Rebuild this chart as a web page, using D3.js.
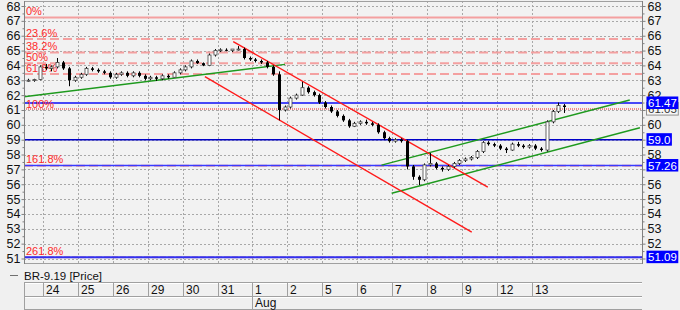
<!DOCTYPE html>
<html>
<head>
<meta charset="utf-8">
<script src="https://cdn.jsdelivr.net/npm/d3@7"></script>
<style>
body { margin: 0; background: #f0f0f0; }
svg { display: block; font-family: "Liberation Sans", Arial, sans-serif; }
</style>
</head>
<body>
<script>
// day labels on the time axis (index 0 = 24 Jul), month label starts at "1"
var days = ["24","25","26","29","30","31","1","2","5","6","7","8","9","12","13"];
var monthLabel = "Aug", monthStart = 6;
var barsPerDay = 6, firstDayBars = 3; // partial day before the 24th

// intraday candles, one line per day
var opens = [
  63.0, 63.0, 63.05,
  63.9, 63.8, 63.9, 64.2, 63.8, 63.0,
  63.2, 63.4, 63.8, 63.7, 63.6, 63.5,
  63.2, 63.4, 63.5, 63.3, 63.5, 63.3,
  63.1, 63.2, 63.1, 63.3, 63.2, 63.5,
  63.7, 63.9, 64.3, 64.15, 64.0, 64.7,
  65.0, 65.05, 65.0, 65.1, 65.1, 64.5,
  64.4, 64.3, 64.2, 63.9, 63.4, 61.0,
  61.2, 61.8, 62.0, 62.5, 62.2, 62.0,
  61.5, 61.2, 60.9, 60.6, 60.3, 59.9,
  60.1, 60.2, 60.1, 60.0, 59.5, 59.1,
  58.9, 59.0, 58.9, 57.2, 56.5, 56.3,
  57.3, 57.4, 57.1, 57.0, 57.2, 57.4,
  57.6, 57.7, 57.8, 58.2, 58.8, 58.7,
  58.6, 58.4, 58.3, 58.7, 58.6, 58.5,
  58.6, 58.4, 58.3, 60.2, 60.9, 61.3
];
var highs = [
  63.1, 63.1, 64.0,
  64.1, 64.0, 64.5, 64.3, 63.9, 63.3,
  63.5, 63.9, 63.9, 63.8, 63.7, 63.6,
  63.5, 63.6, 63.6, 63.6, 63.6, 63.4,
  63.3, 63.3, 63.4, 63.4, 63.6, 63.8,
  64.0, 64.4, 64.4, 64.2, 64.8, 65.1,
  65.15, 65.15, 65.1, 65.3, 65.2, 64.6,
  64.5, 64.4, 64.3, 64.0, 63.6, 61.3,
  61.9, 62.1, 62.9, 62.6, 62.3, 62.1,
  61.6, 61.3, 61.0, 60.7, 60.4, 60.2,
  60.3, 60.35, 60.2, 60.1, 59.6, 59.2,
  59.1, 59.1, 59.0, 57.3, 56.6, 57.4,
  58.1, 57.5, 57.2, 57.3, 57.5, 57.7,
  57.8, 57.9, 58.3, 58.9, 58.9, 58.8,
  58.7, 58.5, 58.8, 58.85, 58.7, 58.7,
  58.7, 58.5, 60.3, 61.0, 61.5, 61.4
];
var lows = [
  62.9, 62.9, 63.0,
  63.7, 63.6, 63.8, 63.7, 62.6, 62.9,
  63.1, 63.3, 63.6, 63.5, 63.4, 63.1,
  63.1, 63.3, 63.2, 63.2, 63.2, 63.0,
  63.0, 62.95, 63.0, 63.1, 63.2, 63.4,
  63.6, 63.8, 64.1, 63.95, 63.95, 64.6,
  64.9, 64.95, 64.9, 65.0, 64.4, 64.3,
  64.2, 64.1, 63.8, 63.3, 60.3, 60.9,
  61.1, 61.7, 61.95, 62.1, 61.9, 61.4,
  61.1, 60.8, 60.5, 60.2, 59.8, 59.85,
  60.0, 60.0, 59.9, 59.4, 59.0, 58.8,
  58.8, 58.8, 57.0, 56.3, 55.95, 56.2,
  57.2, 57.0, 56.85, 56.9, 57.1, 57.3,
  57.5, 57.6, 57.7, 58.1, 58.6, 58.5,
  58.3, 58.1, 58.25, 58.5, 58.4, 58.4,
  58.3, 58.2, 58.2, 60.1, 60.8, 60.8
];
var closes = [
  63.0, 63.05, 63.9,
  63.8, 63.9, 64.2, 63.8, 63.0, 63.2,
  63.4, 63.8, 63.7, 63.6, 63.5, 63.2,
  63.4, 63.5, 63.3, 63.5, 63.3, 63.1,
  63.2, 63.1, 63.3, 63.2, 63.5, 63.7,
  63.9, 64.3, 64.15, 64.0, 64.7, 65.0,
  65.05, 65.0, 65.1, 65.1, 64.5, 64.4,
  64.3, 64.2, 63.9, 63.4, 61.0, 61.2,
  61.8, 62.0, 62.5, 62.2, 62.0, 61.5,
  61.2, 60.9, 60.6, 60.3, 59.9, 60.1,
  60.2, 60.1, 60.0, 59.5, 59.1, 58.9,
  59.0, 58.9, 57.2, 56.5, 56.3, 57.3,
  57.4, 57.1, 57.0, 57.2, 57.4, 57.6,
  57.7, 57.8, 58.2, 58.8, 58.7, 58.6,
  58.4, 58.3, 58.7, 58.6, 58.5, 58.6,
  58.4, 58.3, 60.2, 60.9, 61.3, 61.2
];

// fibonacci retracement anchors and levels
var fibHigh = 67.23, fibLow = 61.06;
var fibLevels = [0, 23.6, 38.2, 50, 61.8, 100, 161.8, 261.8];
var fibLabels = ["0%","23.6%","38.2%","50%","61.8%","100%","161.8%","261.8%"];

// horizontal price lines with their axis tags
var hLineValues = [61.47, 59.0, 57.26, 51.09];
var hLineLabels = ["61.47", "59.0", "57.26", "51.09"];
var lastFibTag = "61.05";

// trend lines, [dayIndex, price] end points
var greenLines = [
  [[-0.534, 61.89], [6.93, 64.07]],
  [[9.69, 57.29], [16.79, 61.67]],
  [[9.98, 55.39], [17.08, 59.80]]
];
var redLines = [
  [[5.45, 65.60], [12.73, 55.81]],
  [[4.64, 63.24], [12.27, 52.78]]
];

var yTicks = d3.range(51, 69);
var rightHidden = [51, 57, 59, 61]; // covered by the price tags

var W = 680, H = 310;
var pL = 24, pR = 642, pT = 1, pB = 263;

var svg = d3.select("body").append("svg")
  .attr("width", W).attr("height", H);

var x = d3.scaleLinear().domain([-0.534, 17.14]).range([pL, pR]);
var y = d3.scaleLinear().domain([51, 68]).range([258.5, 6]);

svg.append("rect").attr("x", pL).attr("y", pT)
  .attr("width", pR - pL).attr("height", pB - pT)
  .attr("fill", "#f2f2f2");

svg.append("clipPath").attr("id", "plot")
  .append("rect").attr("x", pL).attr("y", pT)
  .attr("width", pR - pL).attr("height", pB - pT);

var plot = svg.append("g").attr("clip-path", "url(#plot)");

// grid
plot.selectAll(".hg").data(yTicks).enter().append("line")
  .attr("x1", pL).attr("x2", pR)
  .attr("y1", function(d){ return Math.round(y(d)) + 0.5; })
  .attr("y2", function(d){ return Math.round(y(d)) + 0.5; })
  .attr("stroke", "#a8a8a8").attr("stroke-dasharray", "2,2");
plot.selectAll(".vg").data(days).enter().append("line")
  .attr("x1", function(d, i){ return Math.round(x(i)) + 0.5; })
  .attr("x2", function(d, i){ return Math.round(x(i)) + 0.5; })
  .attr("y1", pT).attr("y2", pB)
  .attr("stroke", "#a8a8a8").attr("stroke-dasharray", "2,2");

// fibonacci lines
var fibStyle = {
  0: {dash: null, w: 2, c: "#f4a0a0"},
  100: {dash: "1,1", w: 2, c: "#f08888"},
  261.8: {dash: "6,2", w: 2, c: "#eea0a0"}
};
fibLevels.forEach(function(lv){
  var v = fibHigh - (fibHigh - fibLow) * lv / 100;
  var s = fibStyle[lv] || {dash: "9,4", w: 2, c: "#f4a0a0"};
  plot.append("line")
    .attr("x1", pL).attr("x2", pR)
    .attr("y1", y(v)).attr("y2", y(v))
    .attr("stroke", s.c).attr("stroke-width", s.w)
    .attr("stroke-dasharray", s.dash);
});

// blue horizontal lines
var hStyle = [
  {w: 2, c: "#4646f6"},
  {w: 1.5, c: "#0000c8"},
  {w: 1.5, c: "#3a3aff"},
  {w: 2, c: "#3030f0"}
];
hLineValues.forEach(function(v, i){
  plot.append("line")
    .attr("x1", pL).attr("x2", pR)
    .attr("y1", y(v)).attr("y2", y(v))
    .attr("stroke", hStyle[i].c).attr("stroke-width", hStyle[i].w);
});

// fib labels
fibLevels.forEach(function(lv, i){
  var v = fibHigh - (fibHigh - fibLow) * lv / 100;
  var yy = lv == 100 ? y(v) - 1.5 : y(v) - 2.5;
  plot.append("text")
    .attr("x", 26).attr("y", yy)
    .attr("font-size", 11).attr("fill", "#ff2a2a")
    .text(fibLabels[i]);
});

// trend lines
function drawTrend(pts, col){
  plot.append("line")
    .attr("x1", x(pts[0][0])).attr("y1", y(pts[0][1]))
    .attr("x2", x(pts[1][0])).attr("y2", y(pts[1][1]))
    .attr("stroke", col).attr("stroke-width", 1.4);
}
greenLines.forEach(function(p){ drawTrend(p, "#1e9a1e"); });
redLines.forEach(function(p){ drawTrend(p, "#ff1a1a"); });

// candles
var bars = closes.map(function(c, i){
  return {t: (i - firstDayBars + 0.5) / barsPerDay, o: opens[i], h: highs[i], l: lows[i], c: c};
});
var cg = plot.selectAll(".bar").data(bars).enter().append("g");
cg.append("line")
  .attr("x1", function(d){ return Math.round(x(d.t)) + 0.5; })
  .attr("x2", function(d){ return Math.round(x(d.t)) + 0.5; })
  .attr("y1", function(d){ return y(d.h); })
  .attr("y2", function(d){ return y(d.l); })
  .attr("stroke", "#000");
cg.append("rect")
  .attr("x", function(d){ return Math.round(x(d.t)) - 1; })
  .attr("width", 3)
  .attr("y", function(d){ return y(Math.max(d.o, d.c)); })
  .attr("height", function(d){ return Math.max(1, Math.abs(y(d.o) - y(d.c))); })
  .attr("fill", function(d){ return d.c >= d.o ? "#ffffff" : "#000"; })
  .attr("stroke", function(d){ return d.c >= d.o ? "#444" : "none"; })
  .attr("stroke-width", 0.8);

// frame
svg.append("rect").attr("x", pL + 0.5).attr("y", pT + 0.5)
  .attr("width", pR - pL).attr("height", pB - pT)
  .attr("fill", "none").attr("stroke", "#a0a0a0");

// y axes
var minorVals = d3.range(51.5, 68, 1);
var majorL = d3.axisLeft(y).tickValues(yTicks).tickSize(3).tickPadding(1).tickFormat(d3.format("d"));
var minorL = d3.axisLeft(y).tickValues(minorVals).tickSize(2).tickFormat("");
var majorR = d3.axisRight(y).tickValues(yTicks).tickSize(3).tickPadding(2)
  .tickFormat(function(d){ return rightHidden.indexOf(d) >= 0 ? "" : d; });
var minorR = d3.axisRight(y).tickValues(minorVals).tickSize(2).tickFormat("");

function styleAxis(g){
  g.select(".domain").remove();
  g.selectAll("line").attr("stroke", "#808080");
  g.selectAll("text").attr("font-size", 12.5).attr("fill", "#111")
    .attr("font-family", "'Liberation Sans', Arial, sans-serif");
}
svg.append("g").attr("transform", "translate(" + (pL + 0.5) + ",0)").call(majorL).call(styleAxis);
svg.append("g").attr("transform", "translate(" + (pL + 0.5) + ",0)").call(minorL).call(styleAxis);
svg.append("g").attr("transform", "translate(" + (pR + 0.5) + ",0)").call(majorR).call(styleAxis);
svg.append("g").attr("transform", "translate(" + (pR + 0.5) + ",0)").call(minorR).call(styleAxis);
svg.append("line").attr("x1", pL + 0.5).attr("x2", pL + 0.5).attr("y1", pT).attr("y2", pB + 1).attr("stroke", "#808080");
svg.append("line").attr("x1", pR + 0.5).attr("x2", pR + 0.5).attr("y1", pT).attr("y2", pB + 1).attr("stroke", "#808080");

// price tags on the right
function tag(v, label, bg, fg, border){
  var g = svg.append("g");
  var t = g.append("text").attr("x", 648).attr("y", y(v) + 4)
    .attr("font-size", 11.5).attr("fill", fg).text(label);
  var bb = t.node().getBBox();
  g.insert("rect", "text")
    .attr("x", 646.5).attr("y", y(v) - 6.5)
    .attr("width", bb.width + 3).attr("height", 12.5)
    .attr("fill", bg).attr("stroke", border || "none");
}
tag(fibLow, lastFibTag, "#f6f6f6", "#333", "#909090");
hLineValues.forEach(function(v, i){ tag(v, hLineLabels[i], "#0000ff", "#fff"); });

// legend
svg.append("line").attr("x1", 10).attr("x2", 18).attr("y1", 275.5).attr("y2", 275.5)
  .attr("stroke", "#707070").attr("stroke-width", 1);
svg.append("text").attr("x", 24).attr("y", 280).attr("font-size", 11.5).attr("fill", "#111")
  .text("BR-9.19 [Price]");

// time axis table
var r1 = 282.5, r2 = 296.5, r3 = 309.5;
[r1, r2, r3].forEach(function(yy){
  svg.append("line").attr("x1", pL).attr("x2", pR).attr("y1", yy).attr("y2", yy)
    .attr("stroke", "#a0a0a0");
  svg.append("line").attr("x1", pL).attr("x2", pR).attr("y1", yy + 1).attr("y2", yy + 1)
    .attr("stroke", "#ffffff");
});
svg.append("line").attr("x1", pL + 0.5).attr("x2", pL + 0.5).attr("y1", r1).attr("y2", r3)
  .attr("stroke", "#a0a0a0");
var dayCells = svg.selectAll(".day").data(days).enter().append("g");
dayCells.append("line")
  .attr("x1", function(d, i){ return Math.round(x(i)) + 0.5; })
  .attr("x2", function(d, i){ return Math.round(x(i)) + 0.5; })
  .attr("y1", r1).attr("y2", function(d, i){ return i == monthStart ? r3 : r2; })
  .attr("stroke", "#a0a0a0");
dayCells.append("text")
  .attr("x", function(d, i){ return Math.round(x(i)) + 3; })
  .attr("y", 294).attr("font-size", 12).attr("fill", "#111")
  .text(function(d){ return d; });
svg.append("text").attr("x", Math.round(x(monthStart)) + 3).attr("y", 307)
  .attr("font-size", 12).attr("fill", "#111").text(monthLabel);
</script>
</body>
</html>
